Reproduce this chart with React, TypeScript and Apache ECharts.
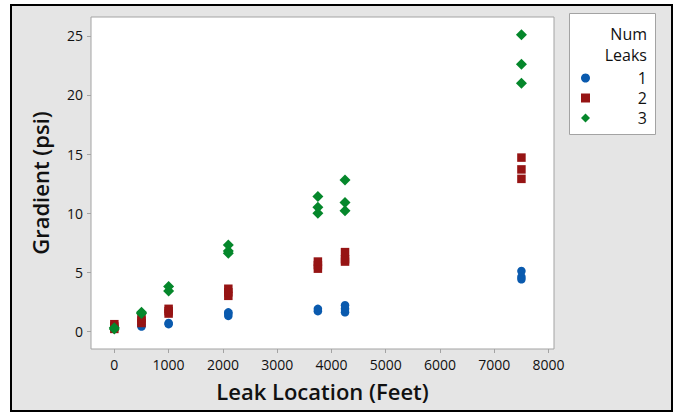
import React, { useEffect, useRef } from "react";
import * as echarts from "echarts";

const seriesNames = ["1", "2", "3"];
const xTicks = [0, 1000, 2000, 3000, 4000, 5000, 6000, 7000, 8000];
const yTicks = [0, 5, 10, 15, 20, 25];

// [Leak Location (Feet), Gradient (psi)]
const oneLeak: [number, number][] = [
  [0, 0.2], [0, 0.3],
  [500, 0.4], [500, 0.5],
  [1000, 0.6], [1000, 0.7],
  [2100, 1.3], [2100, 1.5], [2100, 1.6],
  [3750, 1.7], [3750, 1.9],
  [4250, 1.6], [4250, 1.9], [4250, 2.2],
  [7500, 4.4], [7500, 4.6], [7500, 5.1],
];
const twoLeaks: [number, number][] = [
  [0, 0.2], [0, 0.4], [0, 0.6],
  [500, 0.7], [500, 0.9], [500, 1.1],
  [1000, 1.5], [1000, 1.7], [1000, 1.9],
  [2100, 3.0], [2100, 3.3], [2100, 3.6],
  [3750, 5.3], [3750, 5.6], [3750, 5.9],
  [4250, 5.9], [4250, 6.1], [4250, 6.7],
  [7500, 12.9], [7500, 13.7], [7500, 14.7],
];
const threeLeaks: [number, number][] = [
  [0, 0.2], [0, 0.3],
  [500, 1.5], [500, 1.6],
  [1000, 3.4], [1000, 3.8],
  [2100, 6.6], [2100, 6.8], [2100, 7.3],
  [3750, 10.0], [3750, 10.5], [3750, 11.4],
  [4250, 10.2], [4250, 10.9], [4250, 12.8],
  [7500, 21.0], [7500, 22.6], [7500, 25.1],
];

const FONT = "'Open Sans', 'Noto Sans', sans-serif";

export default function App() {
  const ref = useRef<HTMLDivElement>(null);
  useEffect(() => {
    if (!ref.current) return;
    const chart = echarts.init(ref.current, null, { renderer: "svg" });
    const colors = ["#0a5aae", "#961414", "#05872b"];
    const symbols = ["circle", "rect", "diamond"];
    const sizes = [8.5, 8.5, 11];
    const datas = [oneLeak, twoLeaks, threeLeaks];
    chart.setOption({
      animation: false,
      backgroundColor: "transparent",
      textStyle: { fontFamily: FONT },
      grid: {
        left: 91,
        right: 124,
        top: 17,
        bottom: 64,
        show: true,
        backgroundColor: "#ffffff",
        borderColor: "#a3a3a3",
        borderWidth: 1,
      },
      xAxis: {
        type: "value",
        min: -430,
        max: 8100,
        name: "Leak Location (Feet)",
        nameLocation: "middle",
        nameGap: 31,
        nameTextStyle: { fontSize: 22, fontWeight: 600, color: "#111", fontFamily: FONT },
        axisLine: { show: false, onZero: false },
        splitLine: { show: false },
        axisTick: { show: true, length: 4, inside: false, lineStyle: { color: "#a3a3a3" }, customValues: xTicks },
        axisLabel: { fontSize: 14, color: "#111", margin: 8, customValues: xTicks, fontFamily: FONT, formatter: (v: number) => String(v) },
      },
      yAxis: {
        type: "value",
        min: -1.5,
        max: 26.6,
        name: "Gradient (psi)",
        nameLocation: "middle",
        nameGap: 40,
        nameTextStyle: { fontSize: 22, fontWeight: 600, color: "#111", fontFamily: FONT },
        axisLine: { show: false, onZero: false },
        splitLine: { show: false },
        axisTick: { show: true, length: 4, inside: false, lineStyle: { color: "#a3a3a3" }, customValues: yTicks },
        axisLabel: { fontSize: 14, color: "#111", margin: 8, customValues: yTicks, fontFamily: FONT, formatter: (v: number) => String(v) },
      },
      legend: {
        orient: "vertical",
        left: 581,
        top: 70,
        itemWidth: 9,
        itemHeight: 9,
        itemGap: 4,
        padding: 0,
        data: seriesNames.map((n, i) => ({ name: n, icon: symbols[i] })),
        formatter: "{r|{name}}",
        textStyle: {
          fontSize: 16,
          color: "#111",
          fontFamily: FONT,
          rich: { r: { width: 52, align: "right", fontSize: 16, lineHeight: 17, color: "#111", fontFamily: FONT } },
        },
      },
      graphic: [
        {
          type: "rect",
          shape: { x: 569.5, y: 13.5, width: 86, height: 121 },
          style: { fill: "#ffffff", stroke: "#a3a3a3", lineWidth: 1 },
          z: 1,
        },
        {
          type: "text",
          x: 647,
          y: 34,
          style: { text: "Num", fontSize: 16, fontWeight: "normal", fill: "#111", align: "right", verticalAlign: "middle", fontFamily: FONT },
          z: 2,
        },
        {
          type: "text",
          x: 647,
          y: 55,
          style: { text: "Leaks", fontSize: 16, fontWeight: "normal", fill: "#111", align: "right", verticalAlign: "middle", fontFamily: FONT },
          z: 2,
        },
      ],
      series: seriesNames.map((n, i) => ({
        name: n,
        type: "scatter",
        symbol: symbols[i],
        symbolSize: sizes[i],
        itemStyle: { color: colors[i], opacity: 1 },
        data: datas[i],
        z: 3 + i,
      })),
    });
    return () => chart.dispose();
  }, []);

  return (
    <div style={{ position: "fixed", left: 0, top: 0, width: 678, height: 413, background: "#ffffff" }}>
      <div
        style={{
          position: "absolute",
          left: 10,
          top: 4,
          width: 663,
          height: 408,
          boxSizing: "border-box",
          border: "2px solid #000",
          background: "#e5e5e5",
        }}
      />
      <div ref={ref} style={{ position: "absolute", left: 0, top: 0, width: 678, height: 413 }} />
    </div>
  );
}
